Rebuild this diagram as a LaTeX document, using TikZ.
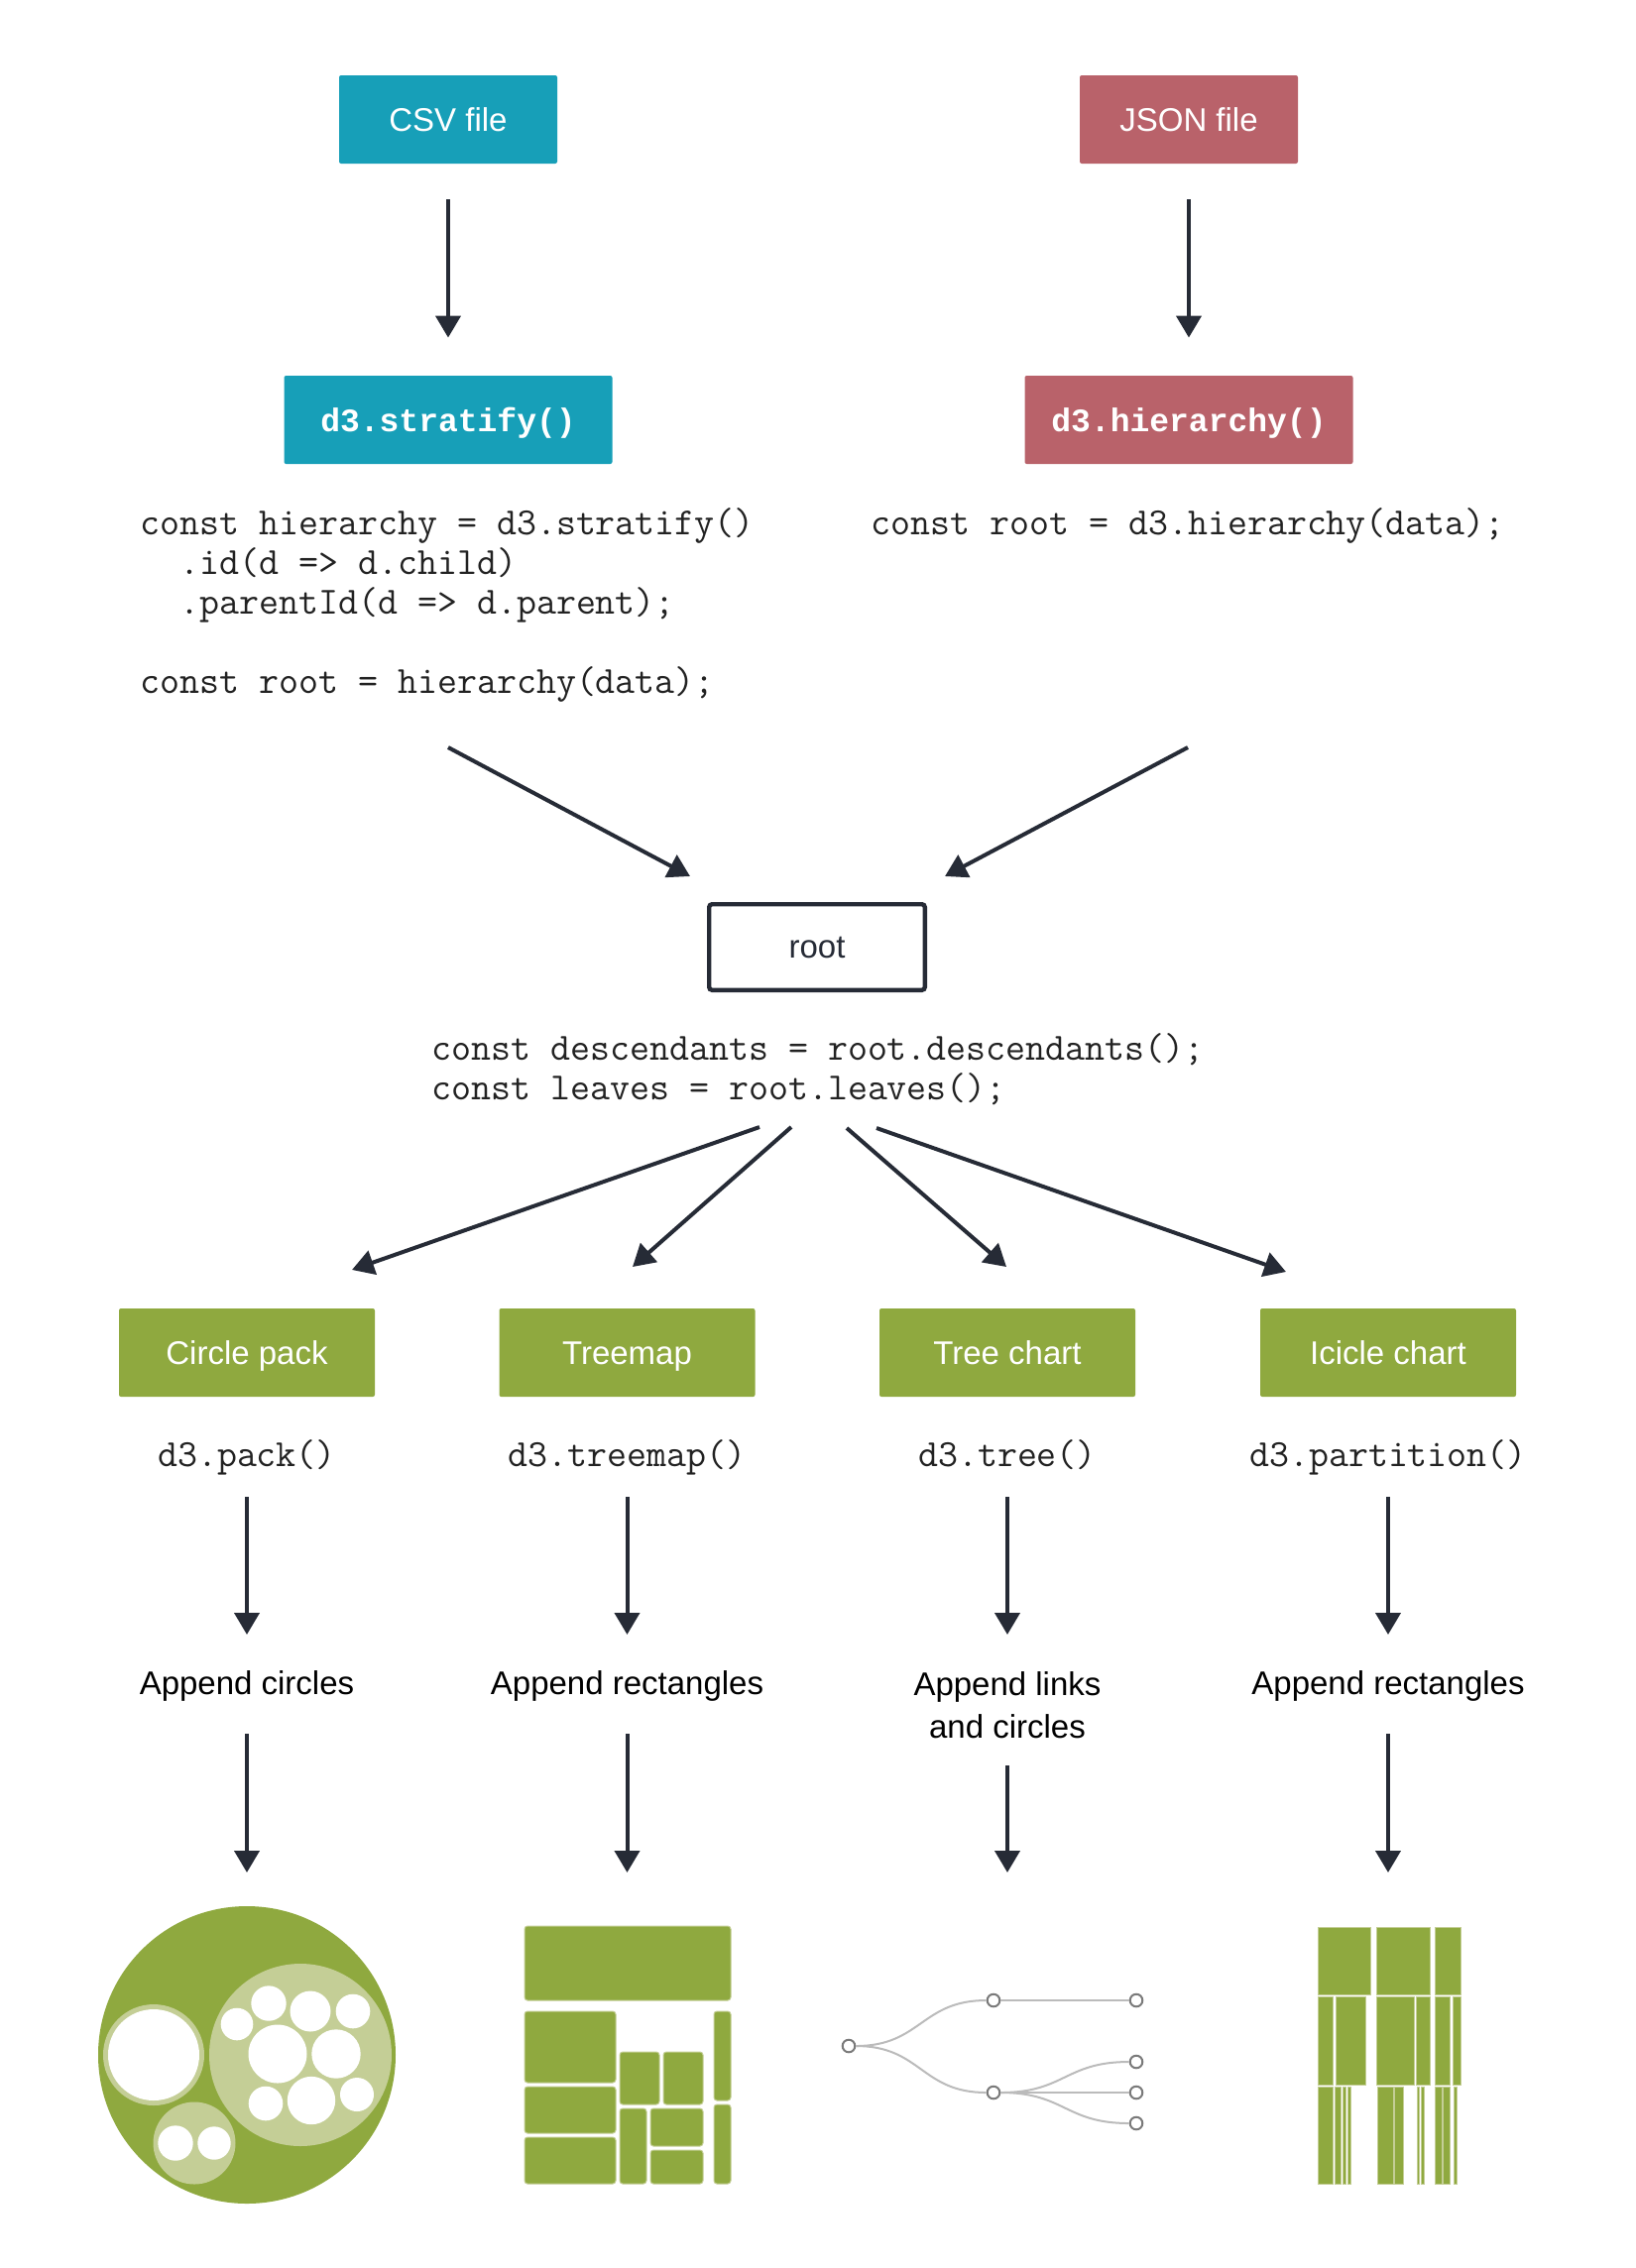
\documentclass[tikz,border=0pt]{standalone}
\usepackage{fontspec}
\setmainfont{Liberation Sans}
\newfontfamily\boxmono{Liberation Mono}
\usetikzlibrary{arrows.meta,positioning}

\definecolor{csvteal}{HTML}{179FB8}
\definecolor{jsonrose}{HTML}{B9626A}
\definecolor{chartgreen}{HTML}{8FA93F}
\definecolor{palegreen}{HTML}{C4CE96}
\definecolor{ink}{HTML}{262B36}
\definecolor{codeink}{HTML}{222222}
\definecolor{linkgray}{HTML}{BBBBBB}
\definecolor{dotgray}{HTML}{7A7A7A}

\tikzset{
  labelfont/.style={font=\fontsize{16.5}{20}\selectfont},
  filebox/.style={labelfont,text=white,rounded corners=1pt,minimum width=110pt,minimum height=44.5pt,inner sep=0pt,text height=11.8pt,text depth=0pt},
  methodbox/.style={filebox,minimum width=165.5pt,font=\fontsize{16.5}{20}\selectfont\boxmono\bfseries},
  chartbox/.style={filebox,fill=chartgreen,minimum width=129pt},
  rootbox/.style={labelfont,text=ink,draw=ink,line width=2.2pt,rounded corners=1.5pt,minimum width=108.8pt,minimum height=43.3pt,inner sep=0pt},
  codetext/.style={font=\fontsize{19.4}{20}\selectfont\ttfamily,text=codeink,inner sep=0pt,align=left},
  steptext/.style={labelfont,text=black,inner sep=0pt,align=center},
  onestep/.style={steptext,text height=11.8pt,text depth=0pt},
  flow/.style={draw=ink,line width=2pt,-{Triangle[width=12.5pt,length=11pt]}},
  tilerect/.style={fill=chartgreen,draw=palegreen,line width=0.5pt,rounded corners=1.5pt},
  iciclerect/.style={fill=chartgreen,draw=palegreen,line width=0.5pt},
  treelink/.style={draw=linkgray,line width=1pt},
  treedot/.style={circle,draw=dotgray,fill=white,line width=1pt,minimum size=6.3pt,inner sep=0pt}
}

\begin{document}
\begin{tikzpicture}[x=0.5pt,y=-0.5pt]
  \useasboundingbox (0,0) rectangle (1650,2288);

  %inputs
  \node[filebox,fill=csvteal] (csv) at (452,120.5) {CSV file};
  \node[filebox,fill=jsonrose] (json) at (1199,120.5) {JSON file};
  \node[methodbox,fill=csvteal] (stratify) at (452,423.5) {d3.stratify()};
  \node[methodbox,fill=jsonrose] (hierarchy) at (1199,423.5) {d3.hierarchy()};
  \draw[flow,shorten <=18pt,shorten >=19pt] (csv) -- (stratify);
  \draw[flow,shorten <=18pt,shorten >=19pt] (json) -- (hierarchy);

  %code under the two methods
  \node[codetext,anchor=west] (stratifyCode) at (141,610) {const hierarchy = d3.stratify()\\\phantom{xx}.id(d => d.child)\\\phantom{xx}.parentId(d => d.parent);\\[20pt]const root = hierarchy(data);};
  \node[codetext,anchor=west] (hierarchyCode) at (878,530) {const root = d3.hierarchy(data);};

  %root
  \node[rootbox] (root) at (824,955.5) {root};
  \coordinate (stratifyOut) at (452,754);
  \coordinate (hierarchyOut) at (1198,754);
  \coordinate (rootInLeft) at (696,884);
  \coordinate (rootInRight) at (953,884);
  \draw[flow] (stratifyOut) -- (rootInLeft);
  \draw[flow] (hierarchyOut) -- (rootInRight);
  \node[codetext,anchor=west] (rootCode) at (435,1079) {const descendants = root.descendants();\\const leaves = root.leaves();};

  %layouts
  \node[chartbox] (pack) at (249,1364.5) {Circle pack};
  \node[chartbox] (treemap) at (632.5,1364.5) {Treemap};
  \node[chartbox] (tree) at (1016,1364.5) {Tree chart};
  \node[chartbox] (partition) at (1400,1364.5) {Icicle chart};
  \coordinate (rootOut1) at (766,1137);
  \coordinate (rootOut2) at (798,1137);
  \coordinate (rootOut3) at (854,1138);
  \coordinate (rootOut4) at (884,1138);
  \coordinate (packIn) at (355,1281);
  \coordinate (treemapIn) at (638,1278);
  \coordinate (treeIn) at (1015,1278);
  \coordinate (partitionIn) at (1297,1283);
  \draw[flow] (rootOut1) -- (packIn);
  \draw[flow] (rootOut2) -- (treemapIn);
  \draw[flow] (rootOut3) -- (treeIn);
  \draw[flow] (rootOut4) -- (partitionIn);

  %methods and steps
  \node[codetext,anchor=base] (packCode) at (249,1479) {d3.pack()};
  \node[codetext,anchor=base] (treemapCode) at (632.5,1479) {d3.treemap()};
  \node[codetext,anchor=base] (treeCode) at (1016,1479) {d3.tree()};
  \node[codetext,anchor=base] (partitionCode) at (1400,1479) {d3.partition()};
  \node[onestep] (packStep) at (249,1698) {Append circles};
  \node[onestep] (treemapStep) at (632.5,1698) {Append rectangles};
  \node[steptext,font=\fontsize{16.5}{21.5}\selectfont] (treeStep) at (1016,1720) {Append links\\and circles};
  \node[onestep] (partitionStep) at (1400,1698) {Append rectangles};
  \foreach \x/\n/\s in {249/pack/1749,632.5/treemap/1749,1016/tree/1781,1400/partition/1749}{
    \coordinate (\n-codeOut) at (\x,1510);
    \coordinate (\n-stepIn) at (\x,1649);
    \coordinate (\n-stepOut) at (\x,\s);
    \coordinate (\n-chartIn) at (\x,1889);
    \draw[flow] (\n-codeOut) -- (\n-stepIn);
    \draw[flow] (\n-stepOut) -- (\n-chartIn);
  }

  %circle pack
  \fill[chartgreen] (249,2073) circle[radius=150];
  \fill[palegreen] (155,2073) circle[radius=51];
  \fill[white] (155,2073) circle[radius=46];
  \fill[palegreen] (196,2162) circle[radius=41.5];
  \fill[white] (177,2162) circle[radius=17.7];
  \fill[white] (216,2162) circle[radius=16.7];
  \fill[palegreen] (303,2073) circle[radius=92];
  \foreach \cx/\cy/\r in {271/2021/17.7,313/2029/20.5,356/2029/17.3,239/2042/16.3,280/2072/29.5,339/2072/24.7,268/2122/17.3,314/2119/24.2,360/2113/17}
    \fill[white] (\cx,\cy) circle[radius=\r];

  %treemap
  \foreach \xa/\ya/\xb/\yb in {529/1943/737/2018,529/2029/621/2101,529/2105/621/2152,529/2156/621/2203,625/2070/665/2123,669/2070/709/2123,625/2127/652/2203,656/2127/709/2165,656/2169/709/2203,720/2029/737/2119,720/2123/737/2203}
    \draw[tilerect] (\xa,\ya) rectangle (\xb,\yb);

  %tree chart
  \node[treedot] (t0) at (856,2064) {};
  \node[treedot] (t1) at (1002,2018) {};
  \node[treedot] (t2) at (1002,2111) {};
  \node[treedot] (t11) at (1146,2018) {};
  \node[treedot] (t21) at (1146,2080) {};
  \node[treedot] (t22) at (1146,2111) {};
  \node[treedot] (t23) at (1146,2142) {};
  \draw[treelink] (t0) .. controls +(73,0) and +(-73,0) .. (t1);
  \draw[treelink] (t0) .. controls +(73,0) and +(-73,0) .. (t2);
  \draw[treelink] (t1) -- (t11);
  \draw[treelink] (t2) .. controls +(72,0) and +(-72,0) .. (t21);
  \draw[treelink] (t2) -- (t22);
  \draw[treelink] (t2) .. controls +(72,0) and +(-72,0) .. (t23);

  %icicle
  \foreach \xa/\xb in {1329/1382,1388/1442,1447/1473}
    \draw[iciclerect] (\xa,1944) rectangle (\xb,2012);
  \foreach \xa/\xb in {1329/1344,1347/1377,1388/1426,1428/1442,1447/1462,1465/1473}
    \draw[iciclerect] (\xa,2014) rectangle (\xb,2103);
  \foreach \xa/\xb in {1329/1344,1346/1352,1354/1357,1359/1362,1389/1405,1406/1415,1429/1431,1433/1436,1447/1454,1455/1462,1466/1469}
    \draw[iciclerect] (\xa,2105) rectangle (\xb,2203);
\end{tikzpicture}
\end{document}
